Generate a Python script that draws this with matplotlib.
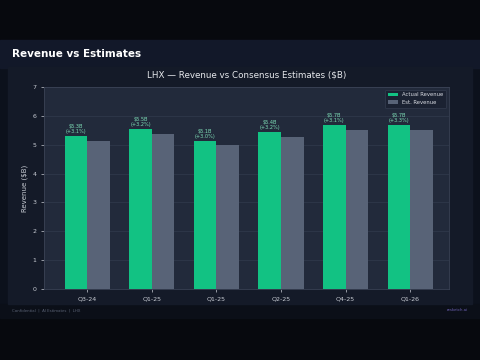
import matplotlib
matplotlib.use("Agg")
import matplotlib.pyplot as plt
import numpy as np

quarters = ["Q3-24", "Q1-25", "Q1-25", "Q2-25", "Q4-25", "Q1-26"]
actual = [5.30, 5.54, 5.14, 5.44, 5.68, 5.68]
estimate = [5.14, 5.37, 4.99, 5.27, 5.51, 5.50]
surprise_pct = [3.1, 3.2, 3.0, 3.2, 3.1, 3.3]

fig = plt.figure(figsize=(4.8, 3.6), dpi=100)
fig.patch.set_facecolor("#0c111c")

# bands
fig.add_artist(plt.Rectangle((0, 1 - 40/360), 1, 40/360, transform=fig.transFigure, color="#07090e", zorder=0))
fig.add_artist(plt.Rectangle((0, 1 - 68/360), 1, 28/360, transform=fig.transFigure, color="#121829", zorder=0))
fig.add_artist(plt.Rectangle((0, 0), 1, 42/360, transform=fig.transFigure, color="#07090e", zorder=0))
fig.add_artist(plt.Rectangle((0, 42/360), 1, 14/360, transform=fig.transFigure, color="#0b0f18", zorder=0))
fig.add_artist(plt.Rectangle((8/480, 56/360), 464/480, (300-63)/360 - 0.0, transform=fig.transFigure, color="#141a28", zorder=0))

fig.text(12/480, 1 - 54/360, "Revenue vs Estimates", color="white", fontsize=7.5, fontweight="bold", va="center")
fig.text(12/480, 1 - 310/360, "Confidential  |  AI Estimates  |  LHX", color="#5a6275", fontsize=2.8, va="center")
fig.text(468/480, 1 - 310/360, "resketch.ai", color="#6a5fb0", fontsize=2.8, va="center", ha="right")

ax = fig.add_axes([44/480, 1 - 289/360, (449-44)/480, (289-87)/360])
ax.set_facecolor("#222a3b")

x = np.arange(len(quarters))
w = 0.35
ax.bar(x - w/2, actual, w, color="#12c283", label="Actual Revenue", zorder=3)
ax.bar(x + w/2, estimate, w, color="#586377", label="Est. Revenue", zorder=3)

for xi, a, p in zip(x, actual, surprise_pct):
    ax.text(xi - w/2, a + 0.06, f"${a:.1f}B\n(+{p:.1f}%)", ha="center", va="bottom",
            fontsize=3.6, color="#7fe0b8", linespacing=1.1, zorder=4)

ax.set_xlim(-0.67, 5.6)
ax.set_ylim(0, 7)
ax.set_xticks(x)
ax.set_xticklabels(quarters)
ax.set_yticks(range(0, 8))
ax.tick_params(colors="#c8ccd4", labelsize=4.5, length=2, width=0.5)
ax.set_ylabel("Revenue ($B)", color="#c8ccd4", fontsize=5, labelpad=3)
ax.grid(axis="y", color="#2f384a", linewidth=0.6, zorder=0)
for s in ax.spines.values():
    s.set_color("#3a4255")
    s.set_linewidth(0.6)

ax.set_title("LHX — Revenue vs Consensus Estimates ($B)", color="#e6e8ec", fontsize=6.3, pad=7)

leg = ax.legend(loc="upper right", fontsize=3.8, frameon=True, facecolor="#1a2030",
                edgecolor="#3a4255", labelcolor="#d8dbe2", handlelength=2.0, handleheight=0.7,
                borderpad=0.5)
leg.get_frame().set_linewidth(0.5)

fig.savefig("out.png", dpi=100, facecolor=fig.get_facecolor())
